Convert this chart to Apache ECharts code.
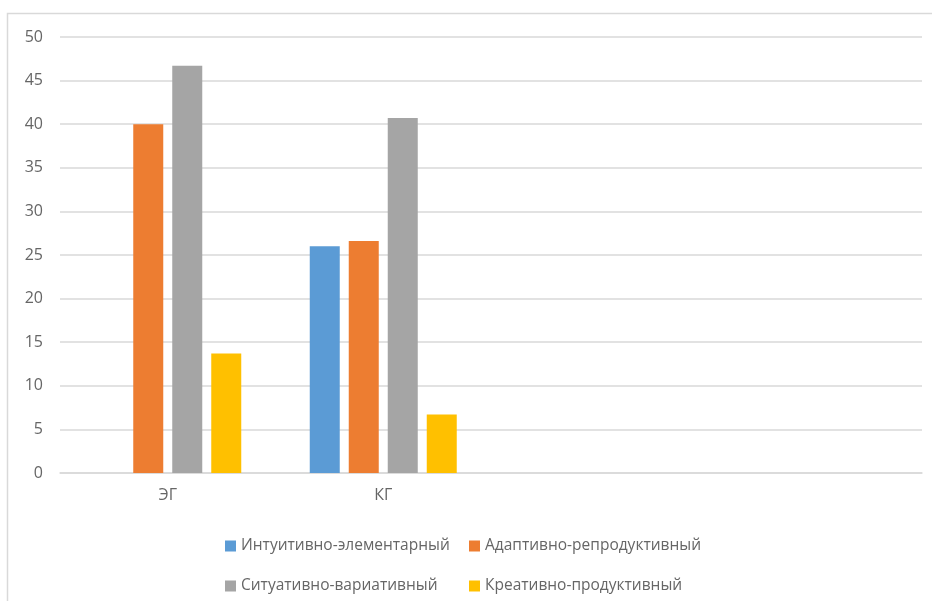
<!DOCTYPE html>
<html>
<head>
<meta charset="utf-8">
<script src="https://cdn.jsdelivr.net/npm/echarts@6/dist/echarts.min.js"></script>
<style>
  html, body { margin: 0; padding: 0; background: #fff; }
  #chart { width: 932px; height: 601px; }
</style>
</head>
<body>
<div id="chart"></div>
<script>
// categories (the last two are empty slots, as in the source chart)
const categories = ['ЭГ', 'КГ', '', ''];

const seriesNames = [
    'Интуитивно-элементарный',
    'Адаптивно-репродуктивный',
    'Ситуативно-вариативный',
    'Креативно-продуктивный'
];

const intuitive = [0, 26, null, null];
const adaptive = [40, 26.6, null, null];
const situative = [46.7, 40.7, null, null];
const creative = [13.7, 6.7, null, null];

const yTicks = [0, 5, 10, 15, 20, 25, 30, 35, 40, 45, 50];

const colors = ['#5b9bd5', '#ed7d31', '#a5a5a5', '#ffc000'];
const values = [intuitive, adaptive, situative, creative];

const chart = echarts.init(document.getElementById('chart'));

const textColor = '#666666';

// legend laid out as a 2x2 block like Excel does
const legendPos = [[220, 533], [464, 533], [220, 573], [464, 573]];

const options = {
    animation: false,
    graphic: [
        {
            type: 'rect',
            shape: {x: 7.5, y: 13.5, width: 940, height: 600},
            style: {fill: 'none', stroke: '#d9d9d9', lineWidth: 1.5}
        }
    ],
    legend: seriesNames.map((name, i) => ({
        data: [name],
        left: legendPos[i][0],
        top: legendPos[i][1],
        itemWidth: 11,
        itemHeight: 11,
        itemGap: 4,
        icon: 'rect',
        textStyle: {fontFamily: 'Open Sans', fontSize: 15.5, color: textColor}
    })),
    grid: {
        left: 60,
        right: 10,
        top: 37,
        bottom: 128
    },
    xAxis: {
        type: 'category',
        data: categories,
        axisLine: {lineStyle: {color: '#d9d9d9', width: 1.5}},
        axisTick: {show: false},
        axisLabel: {margin: 14, fontFamily: 'Open Sans', fontSize: 16, color: textColor}
    },
    yAxis: {
        type: 'value',
        min: yTicks[0],
        max: yTicks[yTicks.length - 1],
        interval: 5,
        axisLine: {show: false},
        axisTick: {show: false},
        splitLine: {lineStyle: {color: '#d9d9d9', width: 1.5}},
        axisLabel: {margin: 17, fontFamily: 'Open Sans', fontSize: 16, color: textColor}
    },
    series: seriesNames.map((name, i) => ({
        name: name,
        type: 'bar',
        data: values[i],
        barWidth: 30,
        barGap: '30%',
        itemStyle: {color: colors[i]}
    }))
};

chart.setOption(options);
</script>
</body>
</html>
